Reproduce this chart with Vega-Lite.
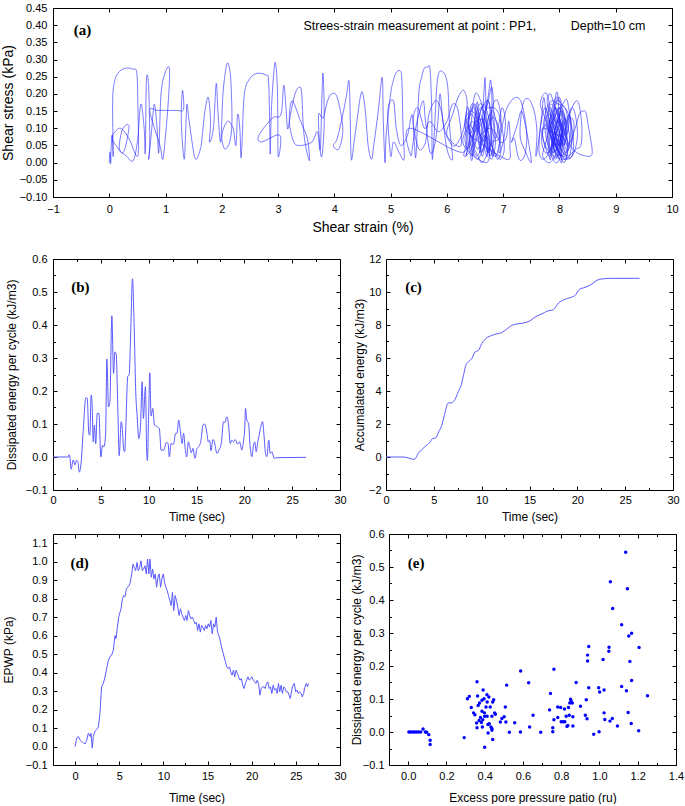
{
"$schema":"https://vega.github.io/schema/vega-lite/v6.json",
"background":"white",
"padding":{"left":0,"top":1,"right":0,"bottom":0},
"autosize":{"type":"pad"},
"config":{
 "view":{"stroke":"black","strokeWidth":1},
 "axis":{"grid":false,"domain":false,"labelFont":"Liberation Sans","titleFont":"Liberation Sans","labelFontSize":11,"titleFontSize":12,"titleFontWeight":"normal","labelColor":"#000","titleColor":"#000","tickColor":"#000","tickSize":-4,"labelPadding":10,"labelFlush":false,"labelOverlap":false}
},
"datasets":{
"a":[{"x":0,"y":0},{"x":0.01,"y":0.03},{"x":0.03,"y":0.01},{"x":0.02,"y":0},{"x":0.05,"y":0.08},{"x":0.07,"y":0.02},{"x":0.06,"y":0.18},{"x":0.1,"y":0.24},{"x":0.18,"y":0.265},{"x":0.3,"y":0.275},{"x":0.42,"y":0.272},{"x":0.49,"y":0.26},{"x":0.51,"y":0.15},{"x":0.52,"y":0.04},{"x":0.48,"y":0.02},{"x":0.35,"y":0.07},{"x":0.2,"y":0.1},{"x":0.08,"y":0.085},{"x":0.05,"y":0.07},{"x":0.12,"y":0.05},{"x":0.25,"y":0.03},{"x":0.35,"y":0.1},{"x":0.3,"y":0.11},{"x":0.22,"y":0.09},{"x":0.18,"y":0.04},{"x":0.3,"y":0.02},{"x":0.42,"y":0.005},{"x":0.5,"y":0.06},{"x":0.56,"y":0.17},{"x":0.62,"y":0.1},{"x":0.64,"y":0.03},{"x":0.66,"y":0.24},{"x":0.7,"y":0.22},{"x":0.72,"y":0.06},{"x":0.7,"y":0.01},{"x":0.75,"y":0.09},{"x":0.8,"y":0.17},{"x":0.85,"y":0.1},{"x":0.88,"y":0.03},{"x":0.92,"y":0.2},{"x":1,"y":0.265},{"x":1.07,"y":0.272},{"x":1.05,"y":0.18},{"x":1,"y":0.08},{"x":0.95,"y":0.01},{"x":0.9,"y":0.05},{"x":0.72,"y":0.15},{"x":0.85,"y":0.152},{"x":1,"y":0.152},{"x":1.2,"y":0.152},{"x":1.32,"y":0.155},{"x":1.3,"y":0.21},{"x":1.28,"y":0.12},{"x":1.33,"y":0.01},{"x":1.36,"y":0.1},{"x":1.38,"y":0.17},{"x":1.42,"y":0.12},{"x":1.5,"y":0.03},{"x":1.55,"y":0.01},
{"x":1.62,"y":0.04},{"x":1.64,"y":0.06},{"x":1.7,"y":0.15},{"x":1.76,"y":0.19},{"x":1.8,"y":0.12},{"x":1.78,"y":0.06},{"x":1.85,"y":0.1},{"x":1.9,"y":0.23},{"x":1.93,"y":0.15},{"x":1.98,"y":0.06},{"x":2.02,"y":0.2},{"x":2.08,"y":0.28},{"x":2.12,"y":0.285},{"x":2.16,"y":0.24},{"x":2.18,"y":0.12},{"x":2.14,"y":0.06},{"x":2.05,"y":0.04},{"x":2,"y":0.08},{"x":2.1,"y":0.12},{"x":2.2,"y":0.1},{"x":2.25,"y":0.05},{"x":2.28,"y":0.14},{"x":2.32,"y":0.1},{"x":2.34,"y":0.015},{"x":2.36,"y":0.06},
{"x":2.4,"y":0.2},{"x":2.5,"y":0.245},{"x":2.63,"y":0.26},{"x":2.78,"y":0.255},{"x":2.83,"y":0.24},{"x":2.85,"y":0.12},{"x":2.86,"y":0.025},{"x":2.88,"y":0.15},{"x":2.93,"y":0.275},{"x":2.96,"y":0.283},{"x":2.99,"y":0.2},{"x":3,"y":0.02},{"x":3.03,"y":0.08},{"x":2.7,"y":0.06},{"x":2.66,"y":0.08},{"x":2.9,"y":0.13},{"x":3.05,"y":0.14},{"x":3.1,"y":0.225},{"x":3.14,"y":0.16},{"x":3.17,"y":0.098},{"x":3.22,"y":0.14},{"x":3.3,"y":0.2},{"x":3.38,"y":0.22},{"x":3.42,"y":0.2},{"x":3.45,"y":0.1},{"x":3.5,"y":0.04},{"x":3.56,"y":0.006},{"x":3.52,"y":0.07},{"x":3.4,"y":0.12},{"x":3.25,"y":0.18},{"x":3.2,"y":0.12},{"x":3.28,"y":0.06},{"x":3.4,"y":0.05},{"x":3.6,"y":0.06},{"x":3.7,"y":0.09},{"x":3.75,"y":0.04},{"x":3.78,"y":0.2},{"x":3.8,"y":0.258},{"x":3.82,"y":0.12},{"x":3.78,"y":0.02},{"x":3.74,"y":0.05},{"x":3.72,"y":0.14},{"x":3.8,"y":0.13},
{"x":3.88,"y":0.18},{"x":3.95,"y":0.2},{"x":4.05,"y":0.19},{"x":4.15,"y":0.1},{"x":4.08,"y":0.04},{"x":3.98,"y":0.05},{"x":4.05,"y":0.07},{"x":4.15,"y":0.14},{"x":4.22,"y":0.2},{"x":4.26,"y":0.238},{"x":4.28,"y":0.15},{"x":4.3,"y":0.01},{"x":4.35,"y":0.06},{"x":4.4,"y":0.12},{"x":4.46,"y":0.19},{"x":4.5,"y":0.204},{"x":4.55,"y":0.15},{"x":4.6,"y":0.05},{"x":4.66,"y":0.01},{"x":4.7,"y":0.05},{"x":4.78,"y":0.15},{"x":4.85,"y":0.248},{"x":4.87,"y":0.12},{"x":4.9,"y":0},{"x":4.92,"y":0.08},{"x":5,"y":0.2},{"x":5.05,"y":0.24},{"x":5.1,"y":0.262},{"x":5.17,"y":0.267},{"x":5.2,"y":0.24},{"x":5.22,"y":0.1},{"x":5.24,"y":0.01},{"x":5.15,"y":0.03},{"x":5.05,"y":0.06},{"x":5,"y":0.02},{"x":4.95,"y":0.15},{"x":5.05,"y":0.18},{"x":5.1,"y":0.1},{"x":5.18,"y":0.05},{"x":5.3,"y":0.08},{"x":5.38,"y":0.14},{"x":5.42,"y":0.06},{"x":5.45,"y":0.02},
{"x":5.5,"y":0.2},{"x":5.55,"y":0.248},{"x":5.6,"y":0.275},{"x":5.65,"y":0.277},{"x":5.7,"y":0.272},{"x":5.73,"y":0.15},{"x":5.74,"y":0.01},{"x":5.78,"y":0.1},{"x":5.82,"y":0.22},{"x":5.86,"y":0.262},{"x":5.92,"y":0.265},{"x":5.98,"y":0.25},{"x":6.02,"y":0.21},{"x":6.05,"y":0.1},{"x":6.1,"y":0.01},{"x":6,"y":0.04},{"x":5.9,"y":0.15},{"x":5.8,"y":0.18},{"x":5.68,"y":0.14},{"x":5.62,"y":0.06},{"x":5.5,"y":0.04},{"x":5.4,"y":0.12},{"x":5.48,"y":0.16},{"x":5.6,"y":0.1},{"x":5.7,"y":0.12},{"x":5.85,"y":0.09},{"x":6,"y":0.12},{"x":6.1,"y":0.17},{"x":6.2,"y":0.15},{"x":6.25,"y":0.05},
{"x":6,"y":0.08},{"x":6.1,"y":0.14},{"x":6.2,"y":0.19},{"x":6.3,"y":0.21},{"x":6.36,"y":0.17},{"x":6.3,"y":0.1},{"x":6.2,"y":0.06},{"x":6.1,"y":0.05},{"x":5.95,"y":0.1},{"x":5.88,"y":0.2},{"x":5.84,"y":0.12},{"x":5.78,"y":0.05},{"x":5.7,"y":0.03},{"x":5.62,"y":0.12},{"x":5.58,"y":0.18},{"x":5.5,"y":0.14},{"x":5.42,"y":0.08},{"x":5.36,"y":0.02},{"x":5.34,"y":0.1},
{"x":6.28,"y":0.03},{"x":6.32,"y":0.12},{"x":6.38,"y":0.16},{"x":6.4,"y":0.05},{"x":6.45,"y":0.01},{"x":6.5,"y":0.14},{"x":6.55,"y":0.17},{"x":6.58,"y":0.03},{"x":6.62,"y":0.1},{"x":6.66,"y":0.21},{"x":6.68,"y":0.243},{"x":6.7,"y":0.12},{"x":6.72,"y":0.02},{"x":6.65,"y":0.05},{"x":6.55,"y":0.1},{"x":6.48,"y":0.16},{"x":6.4,"y":0.13},{"x":6.35,"y":0.06},{"x":6.3,"y":0.02},{"x":6.4,"y":0.03},{"x":6.52,"y":0.08},{"x":6.6,"y":0.15},{"x":6.74,"y":0.18},{"x":6.78,"y":0.1},{"x":6.82,"y":0.02},{"x":6.75,"y":0.05},{"x":6.62,"y":0.13},{"x":6.5,"y":0.05},{"x":6.44,"y":0.02},{"x":6.48,"y":0.11},{"x":6.58,"y":0.17},{"x":6.7,"y":0.16},{"x":6.8,"y":0.22},{"x":6.84,"y":0.12},{"x":6.86,"y":0.05},{"x":6.78,"y":0.01},{"x":6.7,"y":0.07},{"x":6.6,"y":0.14},{"x":6.52,"y":0.1},{"x":6.45,"y":0.07},{"x":6.38,"y":0.12},{"x":6.5,"y":0.17},{"x":6.64,"y":0.09},{"x":6.72,"y":0.03},{"x":6.66,"y":0.14},{"x":6.76,"y":0.16},{"x":6.9,"y":0.15},{"x":6.98,"y":0.1},{"x":7.02,"y":0.04},{"x":6.95,"y":0.01},{"x":6.85,"y":0.03},{"x":6.68,"y":0.08},{"x":6.55,"y":0.04},{"x":6.4,"y":0.09},{"x":6.34,"y":0.13},{"x":6.44,"y":0.15},{"x":6.56,"y":0.12},{"x":6.62,"y":0.06},{"x":6.74,"y":0.11},{"x":6.82,"y":0.17},{"x":6.9,"y":0.18},{"x":6.96,"y":0.13},{"x":6.92,"y":0.07},{"x":6.8,"y":0.06},{"x":6.7,"y":0.02},{"x":6.62,"y":0},{"x":6.55,"y":0.02},{"x":6.48,"y":0.05},{"x":6.6,"y":0.08},{"x":6.75,"y":0.1},{"x":6.85,"y":0.09},{"x":6.95,"y":0.06},{"x":7.05,"y":0.07},{"x":7.1,"y":0.12},{"x":7.12,"y":0.05},{"x":7.05,"y":0.01},
{"x":6.36,"y":0.09},{"x":6.42,"y":0.14},{"x":6.5,"y":0.12},{"x":6.58,"y":0.05},{"x":6.64,"y":0.02},{"x":6.7,"y":0.1},{"x":6.76,"y":0.14},{"x":6.8,"y":0.08},{"x":6.74,"y":0.03},{"x":6.66,"y":0.06},{"x":6.56,"y":0.09},{"x":6.46,"y":0.12},{"x":6.4,"y":0.1},{"x":6.44,"y":0.04},{"x":6.54,"y":0.01},{"x":6.64,"y":0.04},{"x":6.72,"y":0.09},{"x":6.8,"y":0.13},{"x":6.88,"y":0.12},{"x":6.94,"y":0.08},{"x":6.88,"y":0.02},{"x":6.78,"y":0.04},{"x":6.7,"y":0.12},{"x":6.62,"y":0.16},{"x":6.54,"y":0.14},{"x":6.46,"y":0.08},{"x":6.38,"y":0.04},{"x":6.32,"y":0.07},{"x":6.4,"y":0.11},{"x":6.5,"y":0.09},{"x":6.6,"y":0.11},{"x":6.68,"y":0.14},{"x":6.74,"y":0.2},{"x":6.78,"y":0.24},{"x":6.8,"y":0.16},{"x":6.76,"y":0.06},{"x":6.7,"y":0},
{"x":6.3,"y":0.05},{"x":6.36,"y":0.11},{"x":6.44,"y":0.17},{"x":6.52,"y":0.15},{"x":6.58,"y":0.09},{"x":6.62,"y":0.03},{"x":6.68,"y":0.07},{"x":6.74,"y":0.13},{"x":6.82,"y":0.15},{"x":6.9,"y":0.1},{"x":6.96,"y":0.04},{"x":6.9,"y":0.01},{"x":6.8,"y":0.05},{"x":6.7,"y":0.11},{"x":6.6,"y":0.18},{"x":6.5,"y":0.2},{"x":6.44,"y":0.13},{"x":6.4,"y":0.06},{"x":6.34,"y":0.02},{"x":6.42,"y":0.08},{"x":6.52,"y":0.12},{"x":6.64,"y":0.12},{"x":6.72,"y":0.06},{"x":6.78,"y":0.02},{"x":6.84,"y":0.08},{"x":6.8,"y":0.14},{"x":6.72,"y":0.18},{"x":6.66,"y":0.12},{"x":6.6,"y":0.04},{"x":6.52,"y":0.02},{"x":6.46,"y":0.06},{"x":6.56,"y":0.13},{"x":6.66,"y":0.17},{"x":6.76,"y":0.12},{"x":6.86,"y":0.07},{"x":6.92,"y":0.11},{"x":6.98,"y":0.16},{"x":7.04,"y":0.12},{"x":7,"y":0.06},{"x":6.92,"y":0.03},
{"x":7,"y":0.12},{"x":7.1,"y":0.17},{"x":7.25,"y":0.19},{"x":7.35,"y":0.16},{"x":7.42,"y":0.08},{"x":7.38,"y":0.02},{"x":7.28,"y":0.01},{"x":7.2,"y":0.07},
{"x":7.15,"y":0.06},{"x":7.25,"y":0.11},{"x":7.32,"y":0.15},{"x":7.38,"y":0.12},{"x":7.45,"y":0.06},{"x":7.5,"y":0},{"x":7.4,"y":0.03},{"x":7.3,"y":0.08},{"x":7.35,"y":0.17},{"x":7.45,"y":0.185},{"x":7.55,"y":0.15},{"x":7.6,"y":0.09},{"x":7.58,"y":0.02},
{"x":7.62,"y":0.05},{"x":7.68,"y":0.13},{"x":7.72,"y":0.19},{"x":7.76,"y":0.14},{"x":7.8,"y":0.05},{"x":7.84,"y":0.01},{"x":7.88,"y":0.1},{"x":7.92,"y":0.18},{"x":7.96,"y":0.205},{"x":7.99,"y":0.15},{"x":8.02,"y":0.05},{"x":8.04,"y":0},{"x":7.98,"y":0.02},{"x":7.9,"y":0.07},{"x":7.82,"y":0.12},{"x":7.74,"y":0.16},{"x":7.66,"y":0.1},{"x":7.64,"y":0.03},{"x":7.72,"y":0.01},{"x":7.84,"y":0.04},{"x":7.94,"y":0.11},{"x":8.05,"y":0.15},{"x":8.12,"y":0.1},{"x":8.14,"y":0.03},{"x":8.08,"y":0.01},{"x":7.96,"y":0.04},{"x":7.86,"y":0.09},{"x":7.8,"y":0.15},{"x":7.86,"y":0.17},{"x":7.98,"y":0.14},{"x":8.06,"y":0.08},{"x":8.1,"y":0.04},{"x":8.02,"y":0.02},{"x":7.92,"y":0.06},{"x":7.84,"y":0.11},{"x":7.9,"y":0.16},{"x":8,"y":0.19},{"x":8.06,"y":0.13},{"x":8,"y":0.06},{"x":7.88,"y":0.03},{"x":7.78,"y":0.06},{"x":7.74,"y":0.12},{"x":7.82,"y":0.14},{"x":7.95,"y":0.12},{"x":8.08,"y":0.11},{"x":8.18,"y":0.14},{"x":8.22,"y":0.08},{"x":8.18,"y":0.02},{"x":8.05,"y":0.01},{"x":7.9,"y":0.02},{"x":7.78,"y":0.04},{"x":7.7,"y":0.08},{"x":7.76,"y":0.15},{"x":7.86,"y":0.18},{"x":7.98,"y":0.17},{"x":8.1,"y":0.16},{"x":8.2,"y":0.12},{"x":8.25,"y":0.05},{"x":8.2,"y":0.015},{"x":8.05,"y":0.03},{"x":7.95,"y":0.09},{"x":7.88,"y":0.13},{"x":7.94,"y":0.16},{"x":8.04,"y":0.1},{"x":8,"y":0.04},{"x":7.92,"y":0.01},{"x":7.86,"y":0.05},{"x":7.96,"y":0.08},{"x":8.08,"y":0.07},{"x":8.16,"y":0.05},{"x":8.28,"y":0.1},{"x":8.35,"y":0.14},{"x":8.42,"y":0.15},{"x":8.47,"y":0.146},{"x":8.52,"y":0.1},{"x":8.58,"y":0.04},{"x":8.56,"y":0.02},{"x":8.45,"y":0.02},{"x":8.3,"y":0.03},{"x":8.15,"y":0.06},{"x":8.02,"y":0.12},{"x":7.94,"y":0.14},{"x":7.82,"y":0.1},{"x":7.76,"y":0.06},{"x":7.7,"y":0.02},{"x":7.82,"y":0},{"x":7.96,"y":0.03},{"x":8.1,"y":0.09},{"x":8.2,"y":0.15},{"x":8.3,"y":0.18},{"x":8.36,"y":0.16},{"x":8.4,"y":0.1},{"x":8.38,"y":0.05},{"x":8.3,"y":0.04},{"x":8.14,"y":0.02},{"x":8,"y":0.05},{"x":7.92,"y":0.09},{"x":7.98,"y":0.12},{"x":8.06,"y":0.1},{"x":8.02,"y":0.07},
{"x":7.9,"y":0.05},{"x":7.96,"y":0.1},{"x":8.02,"y":0.14},{"x":8.08,"y":0.12},{"x":8.04,"y":0.06},{"x":7.96,"y":0.02},{"x":7.88,"y":0.06},{"x":7.82,"y":0.12},{"x":7.9,"y":0.14},{"x":8,"y":0.11},{"x":8.1,"y":0.08},{"x":8.16,"y":0.1},{"x":8.12,"y":0.15},{"x":8.04,"y":0.17},{"x":7.94,"y":0.19},{"x":7.86,"y":0.15},{"x":7.8,"y":0.08},{"x":7.86,"y":0.02},{"x":7.96,"y":0},{"x":8.06,"y":0.04},{"x":8.12,"y":0.08},{"x":8.06,"y":0.12},{"x":7.98,"y":0.07},{"x":7.92,"y":0.03},{"x":7.84,"y":0.08},{"x":7.78,"y":0.13},{"x":7.84,"y":0.16},{"x":7.92,"y":0.12},{"x":8,"y":0.09},{"x":8.08,"y":0.05},{"x":8.14,"y":0.09},{"x":8.2,"y":0.13},{"x":8.26,"y":0.11},{"x":8.22,"y":0.06},{"x":8.12,"y":0.03},{"x":8,"y":0.02},{"x":7.9,"y":0.04},{"x":7.8,"y":0.1},{"x":7.72,"y":0.14},{"x":7.66,"y":0.17},{"x":7.72,"y":0.2},{"x":7.8,"y":0.19},{"x":7.88,"y":0.09},{"x":7.94,"y":0.05},{"x":8.02,"y":0.1},{"x":8.1,"y":0.13},{"x":8.04,"y":0.08},{"x":7.98,"y":0.05},{"x":7.9,"y":0.11},{"x":7.96,"y":0.15},{"x":8.04,"y":0.16},{"x":8.12,"y":0.12},{"x":8.18,"y":0.07},{"x":8.1,"y":0.02},{"x":8,"y":0.03},{"x":7.92,"y":0.07},{"x":7.98,"y":0.1},{"x":8.04,"y":0.13},{"x":8,"y":0.16},{"x":7.94,"y":0.11},{"x":7.88,"y":0.07},{"x":7.95,"y":0.04},{"x":8.03,"y":0.07},
{"x":7.7,"y":0.1},{"x":7.76,"y":0.04},{"x":7.84,"y":0.02},{"x":7.92,"y":0.08},{"x":7.98,"y":0.13},{"x":8.06,"y":0.17},{"x":8.14,"y":0.18},{"x":8.2,"y":0.1},{"x":8.16,"y":0.04},{"x":8.08,"y":0},{"x":7.98,"y":0.04},{"x":7.9,"y":0.1},{"x":7.84,"y":0.14},{"x":7.78,"y":0.18},{"x":7.84,"y":0.2},{"x":7.92,"y":0.16},{"x":8,"y":0.12},{"x":8.06,"y":0.07},{"x":8.02,"y":0.03},{"x":7.94,"y":0.02},{"x":7.86,"y":0.07},{"x":7.8,"y":0.12},{"x":7.88,"y":0.11},{"x":7.96,"y":0.06},{"x":8.04,"y":0.05},{"x":8.1,"y":0.1},{"x":8.16,"y":0.13},{"x":8.22,"y":0.16},{"x":8.28,"y":0.14},{"x":8.32,"y":0.08},{"x":8.26,"y":0.03},{"x":8.16,"y":0.01},{"x":8.04,"y":0.02},{"x":7.92,"y":0.05},{"x":7.82,"y":0.09},{"x":7.74,"y":0.11},{"x":7.68,"y":0.07},{"x":7.74,"y":0.03},{"x":7.86,"y":0.04},{"x":7.96,"y":0.09},{"x":8.02,"y":0.16},{"x":7.96,"y":0.18},{"x":7.88,"y":0.12},{"x":7.82,"y":0.06},{"x":7.9,"y":0.03},{"x":8,"y":0.06},{"x":8.08,"y":0.1},{"x":8.14,"y":0.06},{"x":8.1,"y":0.03},{"x":8,"y":0.08},{"x":7.92,"y":0.13},{"x":7.98,"y":0.16},{"x":8.06,"y":0.14},{"x":8.12,"y":0.11},{"x":8.06,"y":0.05},{"x":7.96,"y":0.07},{"x":7.9,"y":0.09}],
"b":[{"t":0,"v":0},{"t":1.6,"v":0},{"t":1.67,"v":0.007},{"t":1.75,"v":0.003},{"t":1.9,"v":-0.037},{"t":2.1,"v":-0.009},{"t":2.3,"v":-0.024},{"t":2.45,"v":-0.01},{"t":2.6,"v":-0.014},{"t":2.75,"v":-0.046},{"t":2.95,"v":-0.014},{"t":3.16,"v":0.08},{"t":3.44,"v":0.18},{"t":3.58,"v":0.177},{"t":3.75,"v":0.07},{"t":3.85,"v":0.066},{"t":3.99,"v":0.188},{"t":4.1,"v":0.152},{"t":4.2,"v":0.046},{"t":4.33,"v":0.097},{"t":4.47,"v":0.04},{"t":4.62,"v":0.132},{"t":4.8,"v":0.132},{"t":5,"v":0},{"t":5.18,"v":0.036},{"t":5.32,"v":0.031},{"t":5.5,"v":0.07},{"t":5.63,"v":0.297},{"t":5.8,"v":0.152},{"t":5.94,"v":0.163},{"t":6.15,"v":0.428},{"t":6.33,"v":0.253},{"t":6.47,"v":0.318},{"t":6.6,"v":0.314},{"t":6.77,"v":0.152},{"t":6.92,"v":0.004},{"t":7.13,"v":0.107},{"t":7.2,"v":0.1},{"t":7.4,"v":0.021},{"t":7.5,"v":0.016},{"t":7.6,"v":0.082},{"t":7.82,"v":0.245},{"t":7.96,"v":0.248},{"t":8.1,"v":0.355},{"t":8.31,"v":0.54},{"t":8.45,"v":0.435},{"t":8.66,"v":0.188},{"t":8.8,"v":0.122},{"t":8.97,"v":0.056},{"t":9.14,"v":0.092},{"t":9.32,"v":0.228},{"t":9.45,"v":0.117},{"t":9.66,"v":0.213},{"t":9.8,"v":0.011},{"t":9.87,"v":-0.011},{"t":10,"v":0.132},{"t":10.12,"v":0.255},{"t":10.25,"v":0.124},{"t":10.43,"v":0.147},{"t":10.6,"v":0.097},{"t":10.88,"v":0.092},{"t":11.12,"v":0.085},{"t":11.3,"v":0.021},{"t":11.57,"v":0.021},{"t":11.85,"v":0.044},{"t":12.03,"v":0.041},{"t":12.16,"v":0},{"t":12.34,"v":0.041},{"t":12.5,"v":0.039},{"t":12.6,"v":0.039},{"t":12.82,"v":0.072},{"t":12.96,"v":0.072},{"t":13.14,"v":0.112},{"t":13.3,"v":0.082},{"t":13.5,"v":0.041},{"t":13.65,"v":0.072},{"t":13.83,"v":0.023},{"t":13.97,"v":0},{"t":14.15,"v":0.046},{"t":14.29,"v":0.031},{"t":14.46,"v":0.013},{"t":14.63,"v":0.026},{"t":14.84,"v":-0.004},{"t":15.05,"v":0.026},{"t":15.22,"v":0.031},{"t":15.47,"v":0.051},{"t":15.68,"v":0.097},{"t":15.85,"v":0.1},{"t":16.09,"v":0.072},{"t":16.23,"v":0.046},{"t":16.37,"v":0.051},{"t":16.51,"v":0.019},{"t":16.72,"v":0.053},{"t":16.86,"v":0.046},{"t":17.14,"v":0.011},{"t":17.34,"v":0.021},{"t":17.59,"v":0.041},{"t":17.83,"v":0.107},{"t":17.94,"v":0.104},{"t":18.18,"v":0.122},{"t":18.35,"v":0.097},{"t":18.53,"v":0.041},{"t":18.7,"v":0.051},{"t":18.87,"v":0.046},{"t":19.05,"v":0.053},{"t":19.29,"v":0.039},{"t":19.5,"v":0.046},{"t":19.74,"v":0.021},{"t":19.92,"v":0.051},{"t":20.05,"v":0.092},{"t":20.12,"v":0.147},{"t":20.26,"v":0.112},{"t":20.44,"v":0.102},{"t":20.61,"v":0.031},{"t":20.79,"v":0.001},{"t":20.96,"v":0.036},{"t":21.1,"v":0.046},{"t":21.24,"v":0.016},{"t":21.38,"v":0.041},{"t":21.55,"v":0.066},{"t":21.72,"v":0.092},{"t":21.9,"v":0.107},{"t":22.07,"v":0.061},{"t":22.21,"v":0.011},{"t":22.35,"v":0.001},{"t":22.56,"v":0.051},{"t":22.7,"v":0.011},{"t":22.9,"v":0.016},{"t":23.11,"v":-0.004},{"t":23.4,"v":-0.002},{"t":26.45,"v":-0.001}],
"c":[{"t":0,"v":0},{"t":1.8,"v":0},{"t":2.96,"v":-0.14},{"t":3.4,"v":0.24},{"t":4,"v":0.59},{"t":4.6,"v":0.91},{"t":4.85,"v":1.11},{"t":5.2,"v":1.15},{"t":5.5,"v":1.52},{"t":5.83,"v":1.92},{"t":6.1,"v":2.53},{"t":6.5,"v":3.27},{"t":6.87,"v":3.29},{"t":7.2,"v":3.47},{"t":7.57,"v":3.98},{"t":7.85,"v":4.34},{"t":8.1,"v":4.95},{"t":8.37,"v":5.6},{"t":8.68,"v":5.8},{"t":8.96,"v":5.96},{"t":9.3,"v":6.36},{"t":9.66,"v":6.46},{"t":10,"v":6.87},{"t":10.5,"v":7.21},{"t":11.06,"v":7.37},{"t":11.6,"v":7.47},{"t":12.1,"v":7.54},{"t":12.6,"v":7.74},{"t":13.15,"v":7.98},{"t":13.67,"v":8.06},{"t":14.37,"v":8.12},{"t":15.07,"v":8.26},{"t":15.77,"v":8.55},{"t":16.3,"v":8.67},{"t":16.8,"v":8.83},{"t":17.5,"v":8.93},{"t":18.03,"v":9.33},{"t":18.73,"v":9.56},{"t":19.25,"v":9.66},{"t":19.78,"v":9.8},{"t":20.2,"v":10.16},{"t":20.82,"v":10.28},{"t":21.52,"v":10.48},{"t":22.04,"v":10.71},{"t":22.57,"v":10.79},{"t":23.6,"v":10.83},{"t":26.5,"v":10.83}],
"d":[{"t":0,"v":0},{"t":0.18,"v":0.045},{"t":0.37,"v":0.054},{"t":0.56,"v":0.036},{"t":0.75,"v":0.027},{"t":0.94,"v":0.02},{"t":1.13,"v":0.014},{"t":1.31,"v":0.032},{"t":1.5,"v":0.072},{"t":1.69,"v":0.054},{"t":1.8,"v":0.072},{"t":1.95,"v":-0.009},{"t":2.06,"v":0.054},{"t":2.25,"v":0.081},{"t":2.44,"v":0.093},{"t":2.63,"v":0.104},{"t":2.82,"v":0.18},{"t":3,"v":0.323},{"t":3.2,"v":0.341},{"t":3.39,"v":0.377},{"t":3.58,"v":0.422},{"t":3.77,"v":0.467},{"t":3.96,"v":0.488},{"t":4.14,"v":0.494},{"t":4.33,"v":0.521},{"t":4.52,"v":0.601},{"t":4.64,"v":0.583},{"t":4.79,"v":0.646},{"t":4.94,"v":0.7},{"t":5.09,"v":0.727},{"t":5.2,"v":0.745},{"t":5.36,"v":0.799},{"t":5.51,"v":0.817},{"t":5.66,"v":0.811},{"t":5.81,"v":0.853},{"t":5.96,"v":0.862},{"t":6.11,"v":0.871},{"t":6.26,"v":0.889},{"t":6.41,"v":0.934},{"t":6.56,"v":0.987},{"t":6.71,"v":0.969},{"t":6.86,"v":0.952},{"t":7.01,"v":0.996},{"t":7.16,"v":0.952},{"t":7.31,"v":0.969},{"t":7.46,"v":1.005},{"t":7.61,"v":0.952},{"t":7.76,"v":0.96},{"t":7.91,"v":0.978},{"t":8.06,"v":0.934},{"t":8.21,"v":1.014},{"t":8.36,"v":0.934},{"t":8.48,"v":1.014},{"t":8.63,"v":0.916},{"t":8.78,"v":0.96},{"t":8.93,"v":0.907},{"t":9.08,"v":0.934},{"t":9.23,"v":0.862},{"t":9.38,"v":0.916},{"t":9.53,"v":0.934},{"t":9.68,"v":0.862},{"t":9.83,"v":0.907},{"t":9.98,"v":0.934},{"t":10.13,"v":0.889},{"t":10.28,"v":0.862},{"t":10.43,"v":0.844},{"t":10.58,"v":0.817},{"t":10.73,"v":0.79},{"t":10.88,"v":0.763},{"t":11.03,"v":0.835},{"t":11.18,"v":0.736},{"t":11.33,"v":0.817},{"t":11.48,"v":0.79},{"t":11.63,"v":0.754},{"t":11.78,"v":0.709},{"t":11.93,"v":0.745},{"t":12.08,"v":0.718},{"t":12.23,"v":0.7},{"t":12.38,"v":0.682},{"t":12.53,"v":0.709},{"t":12.68,"v":0.682},{"t":12.83,"v":0.736},{"t":12.98,"v":0.709},{"t":13.13,"v":0.691},{"t":13.28,"v":0.7},{"t":13.43,"v":0.682},{"t":13.58,"v":0.664},{"t":13.73,"v":0.673},{"t":13.88,"v":0.628},{"t":14.03,"v":0.664},{"t":14.18,"v":0.619},{"t":14.33,"v":0.655},{"t":14.48,"v":0.646},{"t":14.63,"v":0.628},{"t":14.78,"v":0.655},{"t":14.93,"v":0.637},{"t":15.08,"v":0.664},{"t":15.23,"v":0.646},{"t":15.38,"v":0.682},{"t":15.53,"v":0.61},{"t":15.68,"v":0.664},{"t":15.83,"v":0.646},{"t":15.98,"v":0.7},{"t":16.13,"v":0.619},{"t":16.28,"v":0.601},{"t":16.43,"v":0.575},{"t":16.58,"v":0.539},{"t":16.73,"v":0.512},{"t":16.88,"v":0.485},{"t":17.03,"v":0.458},{"t":17.18,"v":0.431},{"t":17.33,"v":0.422},{"t":17.48,"v":0.431},{"t":17.63,"v":0.404},{"t":17.78,"v":0.386},{"t":17.93,"v":0.413},{"t":18.08,"v":0.377},{"t":18.23,"v":0.413},{"t":18.38,"v":0.395},{"t":18.53,"v":0.377},{"t":18.68,"v":0.359},{"t":18.83,"v":0.368},{"t":18.98,"v":0.332},{"t":19.13,"v":0.314},{"t":19.28,"v":0.341},{"t":19.43,"v":0.359},{"t":19.58,"v":0.377},{"t":19.73,"v":0.359},{"t":19.88,"v":0.368},{"t":20.03,"v":0.377},{"t":20.18,"v":0.359},{"t":20.33,"v":0.35},{"t":20.48,"v":0.341},{"t":20.63,"v":0.359},{"t":20.78,"v":0.341},{"t":20.93,"v":0.278},{"t":21.08,"v":0.314},{"t":21.23,"v":0.323},{"t":21.38,"v":0.323},{"t":21.53,"v":0.314},{"t":21.68,"v":0.341},{"t":21.83,"v":0.35},{"t":21.98,"v":0.314},{"t":22.13,"v":0.323},{"t":22.28,"v":0.287},{"t":22.43,"v":0.332},{"t":22.58,"v":0.305},{"t":22.73,"v":0.314},{"t":22.88,"v":0.287},{"t":23.03,"v":0.341},{"t":23.18,"v":0.296},{"t":23.33,"v":0.332},{"t":23.48,"v":0.287},{"t":23.63,"v":0.323},{"t":23.78,"v":0.314},{"t":23.93,"v":0.296},{"t":24.08,"v":0.296},{"t":24.23,"v":0.278},{"t":24.38,"v":0.26},{"t":24.53,"v":0.305},{"t":24.68,"v":0.332},{"t":24.83,"v":0.341},{"t":24.98,"v":0.296},{"t":25.13,"v":0.305},{"t":25.28,"v":0.287},{"t":25.43,"v":0.296},{"t":25.58,"v":0.287},{"t":25.73,"v":0.269},{"t":25.88,"v":0.287},{"t":26.03,"v":0.323},{"t":26.18,"v":0.341},{"t":26.33,"v":0.323},{"t":26.41,"v":0.341}],
"e":[{"r":0.004,"v":0},{"r":0.013,"v":0},{"r":0.024,"v":0},{"r":0.034,"v":0},{"r":0.045,"v":0},{"r":0.055,"v":0},{"r":0.066,"v":0},{"r":0.078,"v":0.009},{"r":0.09,"v":0},{"r":0.097,"v":-0.001},{"r":0.108,"v":-0.008},{"r":0.115,"v":-0.025},{"r":0.115,"v":-0.038},{"r":0.293,"v":-0.017},{"r":0.31,"v":0.101},{"r":0.32,"v":0.108},{"r":0.33,"v":0.074},{"r":0.342,"v":0.058},{"r":0.349,"v":0.052},{"r":0.358,"v":0.027},{"r":0.36,"v":0.013},{"r":0.36,"v":0.152},{"r":0.363,"v":0.109},{"r":0.366,"v":0.08},{"r":0.371,"v":0.035},{"r":0.378,"v":0.044},{"r":0.383,"v":0.029},{"r":0.373,"v":0.088},{"r":0.386,"v":0.096},{"r":0.386,"v":0.063},{"r":0.388,"v":0.015},{"r":0.39,"v":0.037},{"r":0.392,"v":0.127},{"r":0.397,"v":0.101},{"r":0.399,"v":0.058},{"r":0.4,"v":0.048},{"r":0.4,"v":-0.046},{"r":0.407,"v":0.076},{"r":0.412,"v":0.113},{"r":0.413,"v":0.091},{"r":0.413,"v":0.048},{"r":0.417,"v":0.023},{"r":0.418,"v":-0.003},{"r":0.422,"v":0.106},{"r":0.424,"v":0.025},{"r":0.429,"v":0.076},{"r":0.433,"v":0.015},{"r":0.438,"v":0.005},{"r":0.438,"v":0.01},{"r":0.442,"v":0.091},{"r":0.438,"v":0.048},{"r":0.447,"v":0.098},{"r":0.442,"v":-0.023},{"r":0.452,"v":0.058},{"r":0.456,"v":0.054},{"r":0.482,"v":0.03},{"r":0.49,"v":0.041},{"r":0.502,"v":0.046},{"r":0.508,"v":0.076},{"r":0.511,"v":0.03},{"r":0.515,"v":0.142},{"r":0.529,"v":-0.001},{"r":0.557,"v":0.028},{"r":0.587,"v":0},{"r":0.588,"v":0.185},{"r":0.63,"v":0.149},{"r":0.635,"v":0.015},{"r":0.653,"v":0.051},{"r":0.693,"v":-0.001},{"r":0.739,"v":0.067},{"r":0.744,"v":0.117},{"r":0.756,"v":0.013},{"r":0.756,"v":0.001},{"r":0.762,"v":0.037},{"r":0.762,"v":0.19},{"r":0.782,"v":0.044},{"r":0.782,"v":0.076},{"r":0.797,"v":0.074},{"r":0.8,"v":0.031},{"r":0.81,"v":0.031},{"r":0.817,"v":0.07},{"r":0.819,"v":0.031},{"r":0.826,"v":0.048},{"r":0.83,"v":0.017},{"r":0.835,"v":0.02},{"r":0.838,"v":0.074},{"r":0.842,"v":0.051},{"r":0.845,"v":0.088},{"r":0.849,"v":0.099},{"r":0.852,"v":0.094},{"r":0.858,"v":0.088},{"r":0.861,"v":0.046},{"r":0.861,"v":0.018},{"r":0.878,"v":0.15},{"r":0.901,"v":0.078},{"r":0.926,"v":0.051},{"r":0.931,"v":0.098},{"r":0.935,"v":0.04},{"r":0.938,"v":0.215},{"r":0.938,"v":0.233},{"r":0.944,"v":0.259},{"r":0.944,"v":0.134},{"r":0.97,"v":-0.007},{"r":0.998,"v":0.001},{"r":0.996,"v":0.134},{"r":1.001,"v":0.121},{"r":1.019,"v":0.22},{"r":1.024,"v":0.127},{"r":1.024,"v":0.058},{"r":1.028,"v":0.038},{"r":1.049,"v":0.245},{"r":1.05,"v":0.257},{"r":1.055,"v":0.033},{"r":1.057,"v":0.455},{"r":1.067,"v":0.041},{"r":1.069,"v":0.374},{"r":1.094,"v":0.018},{"r":1.116,"v":0.325},{"r":1.116,"v":0.138},{"r":1.137,"v":0.545},{"r":1.141,"v":0.125},{"r":1.146,"v":0.434},{"r":1.15,"v":0.059},{"r":1.153,"v":0.291},{"r":1.159,"v":0.214},{"r":1.166,"v":0.026},{"r":1.168,"v":0.299},{"r":1.168,"v":0.156},{"r":1.207,"v":0.256},{"r":1.205,"v":0.004},{"r":1.251,"v":0.11}]
},
"spacing":17,
"vconcat":[
{
 "width":619,"height":189,
 "resolve":{"axis":{"x":"independent","y":"independent"}},
 "layer":[
  {"data":{"name":"a"},"mark":{"type":"line","color":"#2424ff","strokeWidth":0.6,"interpolate":"cardinal","clip":true,"order":false},
   "encoding":{
    "x":{"field":"x","type":"quantitative","scale":{"domain":[-1,10],"nice":false,"zero":false},"axis":{"orient":"bottom","values":[-1,0,1,2,3,4,5,6,7,8,9,10],"format":"d","title":"Shear strain (%)","titleFontSize":14,"titlePadding":6}},
    "y":{"field":"y","type":"quantitative","scale":{"domain":[-0.1,0.45],"nice":false,"zero":false},"axis":{"orient":"left","values":[-0.1,-0.05,0,0.05,0.1,0.15,0.2,0.25,0.3,0.35,0.4,0.45],"format":".2f","title":"Shear stress (kPa)","titleFontSize":14,"titlePadding":4}}}},
  {"data":{"values":[{}]},"mark":{"type":"text","font":"Liberation Serif","fontWeight":"bold","fontSize":15,"align":"left","baseline":"middle","color":"#000"},
   "encoding":{
    "x":{"datum":-0.63,"type":"quantitative","axis":{"orient":"top","values":[-1,0,1,2,3,4,5,6,7,8,9,10],"labels":false,"title":null}},
    "y":{"datum":0.386,"type":"quantitative","axis":{"orient":"right","values":[-0.1,-0.05,0,0.05,0.1,0.15,0.2,0.25,0.3,0.35,0.4,0.45],"labels":false,"title":null}},
    "text":{"value":"(a)"}}},
  {"data":{"values":[{}]},"mark":{"type":"text","font":"Liberation Sans","fontSize":12.5,"align":"left","baseline":"middle","color":"#000"},
   "encoding":{"x":{"datum":3.45,"type":"quantitative","axis":null},"y":{"datum":0.398,"type":"quantitative","axis":null},"text":{"value":"Strees-strain measurement at point : PP1,"}}},
  {"data":{"values":[{}]},"mark":{"type":"text","font":"Liberation Sans","fontSize":12.5,"align":"left","baseline":"middle","color":"#000"},
   "encoding":{"x":{"datum":8.2,"type":"quantitative","axis":null},"y":{"datum":0.398,"type":"quantitative","axis":null},"text":{"value":"Depth=10 cm"}}}
 ]
},
{
 "spacing":4,
 "vconcat":[
 {"spacing":5,"hconcat":[
  {
   "width":287,"height":231,
   "resolve":{"axis":{"x":"independent","y":"independent"}},
   "layer":[
    {"data":{"name":"b"},"mark":{"type":"line","color":"#5a5aff","strokeWidth":1,"interpolate":"monotone","clip":true},
     "encoding":{
      "x":{"field":"t","type":"quantitative","scale":{"domain":[0,30],"nice":false,"zero":false},"axis":{"orient":"bottom","values":[0,5,10,15,20,25,30],"title":"Time (sec)","labelPadding":8,"titlePadding":6}},
      "y":{"field":"v","type":"quantitative","scale":{"domain":[-0.1,0.6],"nice":false,"zero":false},"axis":{"orient":"left","values":[-0.1,0,0.1,0.2,0.3,0.4,0.5,0.6],"format":".1f","title":"Dissipated energy per cycle (kJ/m3)","titlePadding":7}}}},
    {"data":{"values":[{}]},"mark":{"type":"point","opacity":0},
     "encoding":{
      "x":{"datum":0,"type":"quantitative","axis":{"orient":"bottom","values":[2.5,7.5,12.5,17.5,22.5,27.5],"labels":false,"title":null,"tickSize":-2.5}},
      "y":{"datum":0,"type":"quantitative","axis":{"orient":"left","values":[-0.05,0.05,0.15,0.25,0.35,0.45,0.55],"labels":false,"title":null,"tickSize":-2.5}}}},
    {"data":{"values":[{}]},"mark":{"type":"text","font":"Liberation Serif","fontWeight":"bold","fontSize":15,"align":"left","baseline":"middle","color":"#000"},
     "encoding":{
      "x":{"datum":1.91,"type":"quantitative","axis":{"orient":"top","values":[0,5,10,15,20,25,30],"labels":false,"title":null}},
      "y":{"datum":0.515,"type":"quantitative","axis":{"orient":"right","values":[-0.1,0,0.1,0.2,0.3,0.4,0.5,0.6],"labels":false,"title":null}},
      "text":{"value":"(b)"}}},
    {"data":{"values":[{}]},"mark":{"type":"point","opacity":0},
     "encoding":{
      "x":{"datum":0,"type":"quantitative","axis":{"orient":"top","values":[2.5,7.5,12.5,17.5,22.5,27.5],"labels":false,"title":null,"tickSize":-2.5}},
      "y":{"datum":0,"type":"quantitative","axis":{"orient":"right","values":[-0.05,0.05,0.15,0.25,0.35,0.45,0.55],"labels":false,"title":null,"tickSize":-2.5}}}}
   ]
  },
  {
   "width":287,"height":231,
   "resolve":{"axis":{"x":"independent","y":"independent"}},
   "layer":[
    {"data":{"name":"c"},"mark":{"type":"line","color":"#5a5aff","strokeWidth":1,"interpolate":"monotone","clip":true},
     "encoding":{
      "x":{"field":"t","type":"quantitative","scale":{"domain":[0,30],"nice":false,"zero":false},"axis":{"orient":"bottom","values":[0,5,10,15,20,25,30],"title":"Time (sec)","labelPadding":8,"titlePadding":6}},
      "y":{"field":"v","type":"quantitative","scale":{"domain":[-2,12],"nice":false,"zero":false},"axis":{"orient":"left","values":[-2,0,2,4,6,8,10,12],"format":"d","title":"Accumalated energy  (kJ/m3)","labelPadding":9,"titlePadding":2}}}},
    {"data":{"values":[{}]},"mark":{"type":"point","opacity":0},
     "encoding":{
      "x":{"datum":0,"type":"quantitative","axis":{"orient":"bottom","values":[2.5,7.5,12.5,17.5,22.5,27.5],"labels":false,"title":null,"tickSize":-2.5}},
      "y":{"datum":0,"type":"quantitative","axis":{"orient":"left","values":[-1,1,3,5,7,9,11],"labels":false,"title":null,"tickSize":-2.5}}}},
    {"data":{"values":[{}]},"mark":{"type":"text","font":"Liberation Serif","fontWeight":"bold","fontSize":15,"align":"left","baseline":"middle","color":"#000"},
     "encoding":{
      "x":{"datum":2.0,"type":"quantitative","axis":{"orient":"top","values":[0,5,10,15,20,25,30],"labels":false,"title":null}},
      "y":{"datum":10.3,"type":"quantitative","axis":{"orient":"right","values":[-2,0,2,4,6,8,10,12],"labels":false,"title":null}},
      "text":{"value":"(c)"}}},
    {"data":{"values":[{}]},"mark":{"type":"point","opacity":0},
     "encoding":{
      "x":{"datum":0,"type":"quantitative","axis":{"orient":"top","values":[2.5,7.5,12.5,17.5,22.5,27.5],"labels":false,"title":null,"tickSize":-2.5}},
      "y":{"datum":0,"type":"quantitative","axis":{"orient":"right","values":[-1,1,3,5,7,9,11],"labels":false,"title":null,"tickSize":-2.5}}}}
   ]
  }
 ]},
 {"spacing":2,"hconcat":[
  {
   "width":287,"height":231,
   "resolve":{"axis":{"x":"independent","y":"independent"}},
   "layer":[
    {"data":{"name":"d"},"mark":{"type":"line","color":"#5a5aff","strokeWidth":1,"clip":true},
     "encoding":{
      "x":{"field":"t","type":"quantitative","scale":{"domain":[-2.5,30],"nice":false,"zero":false},"axis":{"orient":"bottom","values":[0,5,10,15,20,25,30],"title":"Time (sec)","labelPadding":9.5,"titlePadding":11}},
      "y":{"field":"v","type":"quantitative","scale":{"domain":[-0.1,1.15],"nice":false,"zero":false},"axis":{"orient":"left","values":[-0.1,0,0.1,0.2,0.3,0.4,0.5,0.6,0.7,0.8,0.9,1.0,1.1],"format":".1f","title":"EPWP (kPa)","titlePadding":10}}}},
    {"data":{"values":[{}]},"mark":{"type":"point","opacity":0},
     "encoding":{
      "x":{"datum":0,"type":"quantitative","axis":{"orient":"bottom","values":[2.5,7.5,12.5,17.5,22.5,27.5],"labels":false,"title":null,"tickSize":-2.5}},
      "y":{"datum":0,"type":"quantitative","axis":null}}},
    {"data":{"values":[{}]},"mark":{"type":"text","font":"Liberation Serif","fontWeight":"bold","fontSize":15,"align":"left","baseline":"middle","color":"#000"},
     "encoding":{
      "x":{"datum":-0.53,"type":"quantitative","axis":{"orient":"top","values":[0,5,10,15,20,25,30],"labels":false,"title":null}},
      "y":{"datum":0.993,"type":"quantitative","axis":{"orient":"right","values":[-0.1,0,0.1,0.2,0.3,0.4,0.5,0.6,0.7,0.8,0.9,1.0,1.1],"labels":false,"title":null}},
      "text":{"value":"(d)"}}},
    {"data":{"values":[{}]},"mark":{"type":"point","opacity":0},
     "encoding":{
      "x":{"datum":0,"type":"quantitative","axis":{"orient":"top","values":[2.5,7.5,12.5,17.5,22.5,27.5],"labels":false,"title":null,"tickSize":-2.5}},
      "y":{"datum":0,"type":"quantitative","axis":null}}}
   ]
  },
  {
   "width":287,"height":231,
   "resolve":{"axis":{"x":"independent","y":"independent"}},
   "layer":[
    {"data":{"name":"e"},"mark":{"type":"circle","color":"#0000ff","size":12,"opacity":1},
     "encoding":{
      "x":{"field":"r","type":"quantitative","scale":{"domain":[-0.1,1.4],"nice":false,"zero":false},"axis":{"orient":"bottom","values":[0,0.2,0.4,0.6,0.8,1.0,1.2,1.4],"format":".1f","title":"Excess pore pressure patio (ru)","labelPadding":9.5,"titlePadding":11}},
      "y":{"field":"v","type":"quantitative","scale":{"domain":[-0.1,0.6],"nice":false,"zero":false},"axis":{"orient":"left","values":[-0.1,0,0.1,0.2,0.3,0.4,0.5,0.6],"format":".1f","title":"Dissipated energy per cycle (kJ/m3)","labelPadding":9,"titlePadding":-1}}}},
    {"data":{"values":[{}]},"mark":{"type":"point","opacity":0},
     "encoding":{
      "x":{"datum":0,"type":"quantitative","axis":{"orient":"bottom","values":[0.1,0.3,0.5,0.7,0.9,1.1,1.3],"labels":false,"title":null,"tickSize":-2.5}},
      "y":{"datum":0,"type":"quantitative","axis":{"orient":"left","values":[-0.05,0.05,0.15,0.25,0.35,0.45,0.55],"labels":false,"title":null,"tickSize":-2.5}}}},
    {"data":{"values":[{}]},"mark":{"type":"text","font":"Liberation Serif","fontWeight":"bold","fontSize":15,"align":"left","baseline":"middle","color":"#000"},
     "encoding":{
      "x":{"datum":-0.002,"type":"quantitative","axis":{"orient":"top","values":[0,0.2,0.4,0.6,0.8,1.0,1.2,1.4],"labels":false,"title":null}},
      "y":{"datum":0.512,"type":"quantitative","axis":{"orient":"right","values":[-0.1,0,0.1,0.2,0.3,0.4,0.5,0.6],"labels":false,"title":null}},
      "text":{"value":"(e)"}}},
    {"data":{"values":[{}]},"mark":{"type":"point","opacity":0},
     "encoding":{
      "x":{"datum":0,"type":"quantitative","axis":{"orient":"top","values":[0.1,0.3,0.5,0.7,0.9,1.1,1.3],"labels":false,"title":null,"tickSize":-2.5}},
      "y":{"datum":0,"type":"quantitative","axis":{"orient":"right","values":[-0.05,0.05,0.15,0.25,0.35,0.45,0.55],"labels":false,"title":null,"tickSize":-2.5}}}}
   ]
  }
 ]}
 ]
}
]
}
